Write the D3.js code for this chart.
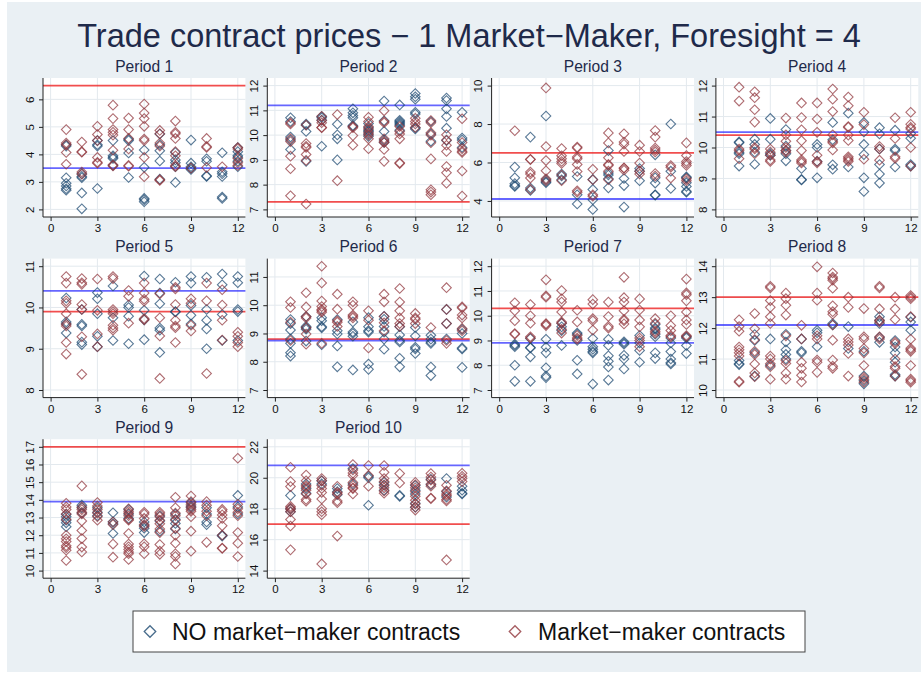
<!DOCTYPE html>
<html>
<head>
<meta charset="utf-8">
<script src="https://cdn.jsdelivr.net/npm/d3@7"></script>
<style>
  body { margin: 0; background: #fff; }
  text { font-family: "Liberation Sans", Arial, Helvetica, sans-serif; }
</style>
</head>
<body>
<svg id="chart" width="921" height="675"></svg>
<script>
// panel names and the two reference levels (red = market-maker, blue = no market-maker)
const periods = ["Period 1", "Period 2", "Period 3", "Period 4", "Period 5",
                 "Period 6", "Period 7", "Period 8", "Period 9", "Period 10"];
const mmLine   = [6.5, 7.3, 6.5, 10.4, 9.9, 8.8, 10.3, 13.0, 17.0, 17.0];
const noMMLine = [3.5, 11.2, 4.1, 10.5, 10.4, 8.75, 8.9, 12.1, 13.9, 20.8];
const xTicks = [0, 3, 6, 9, 12];
const yTicks = [
  [2, 3, 4, 5, 6], [7, 8, 9, 10, 11, 12], [4, 6, 8, 10], [8, 9, 10, 11, 12], [8, 9, 10, 11],
  [7, 8, 9, 10, 11], [7, 8, 9, 10, 11, 12], [10, 11, 12, 13, 14],
  [10, 11, 12, 13, 14, 15, 16, 17], [14, 16, 18, 20, 22]
];

// prices per session (sessions 1..12), one array per period and series
const noMM1 = [[4.35,4.3,3.15,2.95,2.85,2.75,2.7],[3.3,3.2,3.15,2.6,2.02],[4.5,4.35,4.3,2.76],[4.5,3.95,3.9,3.85,3.6],
  [4.55,4.5,4.05,3.16],[4.16,3.53,2.4,2.35,2.28],[4.74,4.35,4.13,3.76,3.1],[4.07,3.8,3.7,3.55,2.98],
  [4.52,3.68,3.55,3.5,3.45],[3.84,3.75,3.22,3.2],[4.06,3.37,3.3,3.2,2.45,2.4],[4.25,4.1,3.95,3.9,3.75,3.55]];
const mm1 = [[4.9,4.41,4.35,4.07,3.64],[4.45,4.1,4.08,3.36,3.28],[5.02,4.72,4.5,3.89,3.71,3.68],[5.79,5.3,4.9,4.8,4.7,4.15,3.62,3.58],
  [5.32,4.9,4.58,4.2,3.6,3.57],[5.83,5.5,5.3,5.02,4.56,4.5,3.89,3.19],[4.87,4.75,4.41,4.3,3.08,3.05],[5.21,4.8,4.75,4.58,4.1,3.95,3.6,3.55],
  [3.5],[4.58,4.29,4.25,3.52],[3.55],[4.25,4.2,3.85,3.7,3.6]];

const noMM2 = [[10.7,10.55,9.92,9.8,9.42],[10.45,10.4,10.15,8.94],[10.75,10.7,10.6,9.55],[10.44,10.01,9.85,9.0],
  [11.06,10.9,10.79,10.7,10.39,10.35],[10.47,10.3,10.2,10.15,10.05,9.95],[11.38,10.58,10.15,9.8,9.7],[11.22,10.6,10.55,10.5,10.45,10.4,10.2],
  [11.68,11.55,11.45,10.92,10.85,10.3,10.25],[10.55,10.05,9.75],[11.5,11.4,11.06,10.75,10.28,9.78],[10.92,9.88,9.8,9.5]];
const mm2 = [[10.5,10.45,9.85,9.74,9.15,8.64,7.55],[10.41,9.66,9.55,9.5,9.22,8.98,7.22],[10.76,10.6,10.5,10.31,10.3],[10.83,8.16],
  [10.35,10.3,9.98,9.59],[10.72,10.55,10.35,10.25,10.1,10.0,9.85,9.45],[10.98,10.55,10.5,9.85,9.75,9.7,9.42,8.94],[10.35,10.15,10.05,9.85,8.88,8.85],
  [10.68,10.55,10.45,10.31],[10.59,10.5,10.1,10.0,9.69,9.04,7.79,7.7,7.59],[10.01,9.8,9.59,9.34,8.73,8.48,8.06],[10.66,9.7,9.45,9.35,9.3,8.55,7.54]];

const noMM3 = [[5.76,5.2,4.9,4.8,4.75],[7.32,4.67,4.55],[8.42,5.1,5.0,4.95],[5.4,5.3,5.1],
  [5.27,4.32,3.84],[5.12,4.6,4.06,3.56],[6.62,5.45,5.35,5.15,4.68],[5.17,4.8,3.68],
  [5.69,5.55,5.05],[6.4,5.2,4.93,4.32,4.3],[8.0,5.55,4.65],[5.25,5.2,4.95,4.75,4.5,4.45]];
const mm3 = [[7.65],[6.17,6.15,5.5,5.4,5.19,4.6],[9.88,6.83,6.1,5.57,5.15,5.05],[6.73,6.35,6.2,6.05,5.95,5.35,5.05],
  [6.8,6.75,6.28,6.2,5.9,5.53,4.53,4.45],[5.65,5.1,4.32,4.25],[7.54,7.02,6.25,5.9,5.85,5.55,5.1],[7.49,7.06,6.95,6.57,5.72,5.7,5.6],
  [6.9,6.57,5.97,5.55,5.4],[7.66,7.32,6.75,6.65,6.55,5.43,5.3],[5.84,5.75,5.19],[7.02,6.36,6.05,5.95,5.85,5.15,5.05]];

const noMM4 = [[10.18,10.15,9.85,9.8,9.4],[10.27,10.1,9.85,9.46],[10.94,10.27,9.8,9.75],[10.58,10.05,9.9,9.8,9.57],
  [9.32,8.97,8.95],[10.1,10.0,9.55,9.02],[10.81,10.25,9.44,9.3],[11.11,9.37],
  [10.81,10.5,10.1,9.77,9.02,8.58],[10.64,10.44,9.95,9.45,9.14,8.85],[10.56,9.95,9.9,9.37],[10.45,10.3,9.45,9.4]];
const mm4 = [[11.95,11.5,9.95,9.9,9.64],[11.8,11.61,11.22,10.82,10.0,9.95,9.8],[9.95,9.85,9.75,9.6,9.55],[10.95,10.41,10.2,10.0,9.9,9.85],
  [11.44,10.97,10.57,10.22,9.9,9.6,9.55,9.5],[11.44,10.92,10.49,9.75,9.55,9.5],[11.89,11.56,11.16,10.41,10.2,10.15,9.92],
  [11.63,11.35,10.68,10.65,10.4,10.23,9.7,9.65,9.6,9.55],[11.14,10.74,9.62],[10.03,9.95,9.59],[10.96,10.29,9.7,9.65],[11.14,10.75,10.65,10.6,10.0,9.4]];

const noMM5 = [[10.23,9.65,9.6,9.38],[9.95,9.59,9.55,9.16,9.1],[10.36,10.21,9.85,9.3,9.05],[10.52,9.75,9.2],
  [10.06,10.0,9.79,9.12],[10.76,9.93,9.7,9.22],[10.69,10.35,10.09,9.5,9.45,8.91],[10.61,9.9,9.89],
  [10.75,10.59,10.05,9.81,9.6],[10.73,9.95,9.69,9.48,9.0],[10.81,10.55,9.83,9.2],[10.75,10.6,9.95,9.9,9.2]];
const mm5 = [[10.75,10.59,10.16,10.1,9.85,9.6,9.55,9.15,8.87],[10.7,10.6,10.56,10.07,9.95,9.29,8.38],[10.69,9.93,9.36,9.05],
  [10.75,10.7,9.95,9.9,9.85,9.57,9.5,9.45],[10.41,10.27,9.62],[10.59,10.35,10.2,10.15,9.73,9.7],[10.33,9.75,9.31,8.28],
  [10.49,10.45,10.07,9.69,9.55,9.51,9.15],[10.21,10.1,9.57,9.43],[10.59,10.16,8.4],[10.43,10.06,9.69,9.21],[9.4,9.3,9.15,9.05]];

const noMM6 = [[9.49,9.35,9.12,8.8,8.65,8.32,8.2],[9.6,9.25,9.2,9.15,8.73],[9.56,9.45,9.24,9.2,8.6],[9.49,9.1,8.98,8.56,7.82],
  [9.41,9.05,9.0,8.9,7.71],[9.56,9.24,9.1,9.05,7.92,7.73],[9.61,9.5,9.25,9.05,8.8,8.44],[9.24,8.95,8.75,8.7,8.12,7.82],
  [9.21,8.91,8.51,8.45,8.29],[8.94,8.8,8.7,8.65,7.81,7.51],[9.85,9.35,8.8],[9.15,9.0,8.49,8.45,7.8]];
const mm6 = [[10.12,9.92,9.4,8.75],[10.44,9.94,9.6,9.55,9.2,8.98,8.62],[11.38,10.79,10.15,9.95,9.85,9.8,9.75,8.65],[10.39,9.86,9.45,9.4,9.25],
  [10.12,10.0,9.65,9.61,9.55],[9.8,9.47,8.49],[10.39,10.12,9.6,9.38,9.1],[10.59,10.11,9.8,9.55,9.35,9.25],
  [9.71,9.55,9.5,9.35],[9.21],[10.62,9.85,9.35,8.75,8.65],[9.94,9.9,9.65,9.55,9.18,9.1]];

const noMM7 = [[8.85,8.8,8.75,8.0,7.35],[9.08,8.72,8.7,8.34,7.35],[9.05,8.73,8.5,7.9,7.57,7.5],[9.7,9.55,9.4,8.8],
  [9.3,9.25,9.0,8.2,7.65],[9.08,8.75,8.65,8.55,8.5,7.24],[9.05,8.8,8.38,8.16,7.93,7.4],[8.95,8.9,8.85,8.4,8.25,7.85],
  [9.2,8.9,8.6,8.12],[9.65,9.5,9.45,9.25,9.15,8.5,8.27],[9.1,8.9,8.55,8.25,8.1,8.05],[9.15,9.1,8.8,8.47]];
const mm7 = [[10.52,10.2,9.8,9.28,9.25],[10.45,10.0,9.7,9.15,9.1],[11.45,10.8,10.75,9.68,9.65,9.6],[11.02,10.68,10.55,10.15,9.75,9.7,9.45,9.3],
  [10.22,9.75,9.2,9.1,9.05],[10.65,10.47,9.88,9.8,9.42],[10.55,9.97,9.57,9.5],[11.55,10.73,10.55,10.2,9.85,9.8,9.67],
  [10.68,10.23,9.83,9.55,9.1,9.0,8.75],[9.88,9.7,9.37,9.3],[10.0,9.6,9.4,9.2,9.15],[11.48,10.92,10.85,10.6,10.15,9.83,9.65,9.2,9.15]];

const noMM8 = [[10.95,10.85,10.82],[11.79,11.6,11.2,10.45],[11.65,10.8],[11.8,11.55,11.3,11.15,11.0],
  [11.65,11.25,11.2],[11.93,11.85,11.4],[12.15,12.1],[12.05,11.34],
  [11.25,10.45,10.3,10.2],[12.37,12.25,12.15,11.7,11.54],[11.6,11.39,11.2,10.9,10.5,10.45],[12.35,12.2,11.93]];
const mm8 = [[12.27,12.05,11.9,11.39,11.3,11.2,11.1,10.28,10.25],[12.47,11.98,11.63,11.25,11.15,10.84,10.55,10.43],
  [13.35,13.3,12.89,12.67,12.37,12.15,11.1,11.0,10.85,10.75,10.35],[13.13,12.95,12.74,12.42,11.75,10.95,10.86,10.55,10.35],
  [12.09,11.65,10.9,10.7,10.48,10.26],[13.98,13.13,12.9,11.75,11.65,10.97,10.9,10.57],
  [13.78,13.65,13.6,13.55,13.29,12.72,12.53,12.45,12.1,11.61,10.97,10.77,10.7],[13.0,12.67,11.65,11.55,11.45,11.18,10.45],
  [12.63,11.72,11.65,11.34,11.2,10.79,10.41,10.35,10.25],[13.35,13.3,12.62,12.25,12.2,11.72,11.65],
  [13.0,12.62,12.28,11.55,11.5,11.0,10.76,10.7,10.45],[13.05,13.0,12.95,12.37,11.64,11.35,11.3,11.25,10.79,10.35,10.3,10.25]];

const noMM9 = [[13.18,13.05,12.85,12.7,12.48],[13.7,13.55,13.25],[13.55,13.3,13.1],[13.27,12.76,12.65,12.1],
  [13.45,13.2,12.95],[12.75,12.55,12.4,12.15],[13.1,12.8,12.23],[13.2,12.9,12.67,12.35],
  [13.85,13.65,13.55],[13.55,13.2,12.75,12.6],[12.0,11.95],[14.25,13.6,13.2]];
const mm9 = [[13.81,13.6,13.45,13.2,12.9,12.0,11.8,11.64,11.4,11.3,11.15,10.57],[14.79,13.6,13.45,13.3,13.2,12.8,12.27,11.81,11.33,11.05],
  [13.85,13.65,13.45,13.25,13.05,12.85],[12.75,12.6,11.5,10.76],[13.5,13.35,13.25,13.1,12.9,12.85,12.1,11.5,11.35,11.2,11.05,10.95,10.63],
  [13.3,13.2,12.95,12.6,12.5,11.52,11.35,10.95],[13.3,13.2,13.05,12.85,12.65,12.35,12.15,11.47,11.1,10.92],
  [14.15,13.55,13.25,13.1,12.85,12.4,12.0,11.55,10.95,10.8,10.38],[14.22,13.9,13.75,13.6,13.45,13.35,13.05,12.23,11.1],
  [13.9,13.7,13.35,13.1,11.6],[13.46,13.35,13.15,12.95,12.53,12.0,11.28,11.25],[16.35,13.75,13.5,13.3,13.1,12.15,11.55,10.8]];

const noMM10 = [[18.86,18.0,17.8],[19.6,19.3,19.0],[19.8,19.6],[19.3,19.1,18.9],
  [20.6,19.6],[20.1,20.0,18.22],[19.7,19.5,19.2],[18.86,18.8],
  [19.5,19.2,18.95,18.35,18.1],[19.9,19.55],[19.95,19.1,18.75],[19.45,19.2,19.0,18.95]];
const mm10 = [[20.68,19.75,19.43,18.15,18.05,17.95,17.8,17.3,16.88,15.34],[20.18,19.8,19.5,19.4,19.2,18.95,18.6,18.48],
  [19.95,19.8,19.5,19.3,19.05,18.63,18.0,17.8,17.61,14.43],[19.45,19.05,18.95,18.5,18.39,16.23],
  [20.85,20.5,20.3,20.15,19.7,19.5,19.35,19.3,18.95],[20.79,20.15,19.45],[20.79,20.35,19.95,19.75,19.55,19.35,19.15,19.0],
  [20.27,19.66],[19.7,19.55,19.35,19.1,18.8,18.55,18.3,18.1,17.91],[20.27,20.05,19.85,19.6,19.45,18.69,18.65],
  [19.51,19.15,18.95,18.85,18.6,18.5,14.69],[20.29,20.1,19.95,19.75]];

const noMMAll = [noMM1, noMM2, noMM3, noMM4, noMM5, noMM6, noMM7, noMM8, noMM9, noMM10];
const mmAll   = [mm1, mm2, mm3, mm4, mm5, mm6, mm7, mm8, mm9, mm10];

const navy = "#1a476f", maroon = "#90353b";
const svg = d3.select("#chart");

// graph region background
svg.append("rect").attr("x", 7).attr("y", 2).attr("width", 914).attr("height", 670)
  .attr("fill", "#eaf0f4");

// overall title
svg.append("text")
  .attr("x", 469).attr("y", 46.5)
  .attr("text-anchor", "middle")
  .attr("font-size", 32.5)
  .attr("fill", "#1f2a4a")
  .text("Trade contract prices \u2212 1 Market\u2212Maker, Foresight = 4");

// panel grid geometry
const left0 = 43, colStep = 224.3, plotW = 202.4;
const top0 = 78, rowStep = 180.6, plotH = 139, pad = 7.6;

const diamond = d3.symbol().type(d3.symbolSquare).size(46);

// turn session arrays into points
function toPoints(series) {
  const pts = [];
  series.forEach((vals, j) => vals.forEach(v => pts.push({ x: j + 1, y: v })));
  return pts;
}

periods.forEach((name, i) => {
  const c = i % 4, r = Math.floor(i / 4);
  const g = svg.append("g")
    .attr("transform", "translate(" + (left0 + c * colStep) + "," + (top0 + r * rowStep) + ")");

  const ptsNo = toPoints(noMMAll[i]);
  const ptsMM = toPoints(mmAll[i]);
  const allY = ptsNo.map(d => d.y).concat(ptsMM.map(d => d.y), yTicks[i], [mmLine[i], noMMLine[i]]);

  const x = d3.scaleLinear().domain([0, 12]).range([pad, plotW - pad]);
  const y = d3.scaleLinear().domain(d3.extent(allY)).range([plotH - pad, pad]);

  // white plot region
  g.append("rect").attr("width", plotW).attr("height", plotH).attr("fill", "#fff");

  // grid
  g.selectAll(".vgrid").data(xTicks).enter().append("line")
    .attr("x1", d => x(d)).attr("x2", d => x(d))
    .attr("y1", 0).attr("y2", plotH)
    .attr("stroke", "#e3e9ee").attr("stroke-width", 1);
  g.selectAll(".hgrid").data(yTicks[i]).enter().append("line")
    .attr("x1", 0).attr("x2", plotW)
    .attr("y1", d => y(d)).attr("y2", d => y(d))
    .attr("stroke", "#e3e9ee").attr("stroke-width", 1);

  // reference lines
  g.append("line")
    .attr("x1", 0).attr("x2", plotW)
    .attr("y1", y(mmLine[i])).attr("y2", y(mmLine[i]))
    .attr("stroke", "#ee2222").attr("stroke-opacity", 0.8).attr("stroke-width", 1.8);
  g.append("line")
    .attr("x1", 0).attr("x2", plotW)
    .attr("y1", y(noMMLine[i])).attr("y2", y(noMMLine[i]))
    .attr("stroke", "#2525ff").attr("stroke-opacity", 0.7).attr("stroke-width", 1.8);

  // markers
  g.selectAll(".no").data(ptsNo).enter().append("path")
    .attr("d", diamond)
    .attr("transform", d => "translate(" + x(d.x) + "," + y(d.y) + ") rotate(45)")
    .attr("fill", "none").attr("stroke", navy).attr("stroke-opacity", 0.72).attr("stroke-width", 1.1);
  g.selectAll(".mm").data(ptsMM).enter().append("path")
    .attr("d", diamond)
    .attr("transform", d => "translate(" + x(d.x) + "," + y(d.y) + ") rotate(45)")
    .attr("fill", "none").attr("stroke", maroon).attr("stroke-opacity", 0.72).attr("stroke-width", 1.1);

  // axes
  const fmt = d3.format("d");
  const xAxis = g.append("g").attr("transform", "translate(0," + plotH + ")")
    .call(d3.axisBottom(x).tickValues(xTicks).tickFormat(fmt).tickSize(4).tickSizeOuter(0));
  const yAxis = g.append("g")
    .call(d3.axisLeft(y).tickValues(yTicks[i]).tickFormat(fmt).tickSize(4).tickSizeOuter(0));
  [xAxis, yAxis].forEach(a => {
    a.select(".domain").remove();
    a.selectAll("line").attr("stroke", "#222");
    a.selectAll("text").attr("font-size", 11.5).attr("fill", "#111")
      .attr("font-family", "'Liberation Sans', Arial, Helvetica, sans-serif");
  });
  yAxis.selectAll("text")
    .attr("x", 0).attr("y", -9.2).attr("dy", 0)
    .attr("transform", "rotate(-90)")
    .attr("text-anchor", "middle");

  g.append("line").attr("x1", 0).attr("x2", 0).attr("y1", 0).attr("y2", plotH)
    .attr("stroke", "#222").attr("stroke-width", 1);
  g.append("line").attr("x1", 0).attr("x2", plotW).attr("y1", plotH).attr("y2", plotH)
    .attr("stroke", "#222").attr("stroke-width", 1);

  // panel title
  g.append("text")
    .attr("x", plotW / 2).attr("y", -6.5)
    .attr("text-anchor", "middle")
    .attr("font-size", 15.6)
    .attr("fill", "#1f2a4a")
    .text(name);
});

// legend
const legend = svg.append("g");
legend.append("rect").attr("x", 133).attr("y", 611).attr("width", 672).attr("height", 41)
  .attr("fill", "#fff").attr("stroke", "#444").attr("stroke-width", 1);
const legendItems = [
  { label: "NO market\u2212maker contracts", color: navy, mx: 150, tx: 172 },
  { label: "Market\u2212maker contracts", color: maroon, mx: 515, tx: 538 }
];
const bigDiamond = d3.symbol().type(d3.symbolSquare).size(66);
legendItems.forEach(it => {
  legend.append("path").attr("d", bigDiamond)
    .attr("transform", "translate(" + it.mx + ",631.5) rotate(45)")
    .attr("fill", "none").attr("stroke", it.color).attr("stroke-opacity", 0.8).attr("stroke-width", 1.3);
  legend.append("text").attr("x", it.tx).attr("y", 639.8)
    .attr("font-size", 23).attr("fill", "#111").text(it.label);
});
</script>
</body>
</html>
